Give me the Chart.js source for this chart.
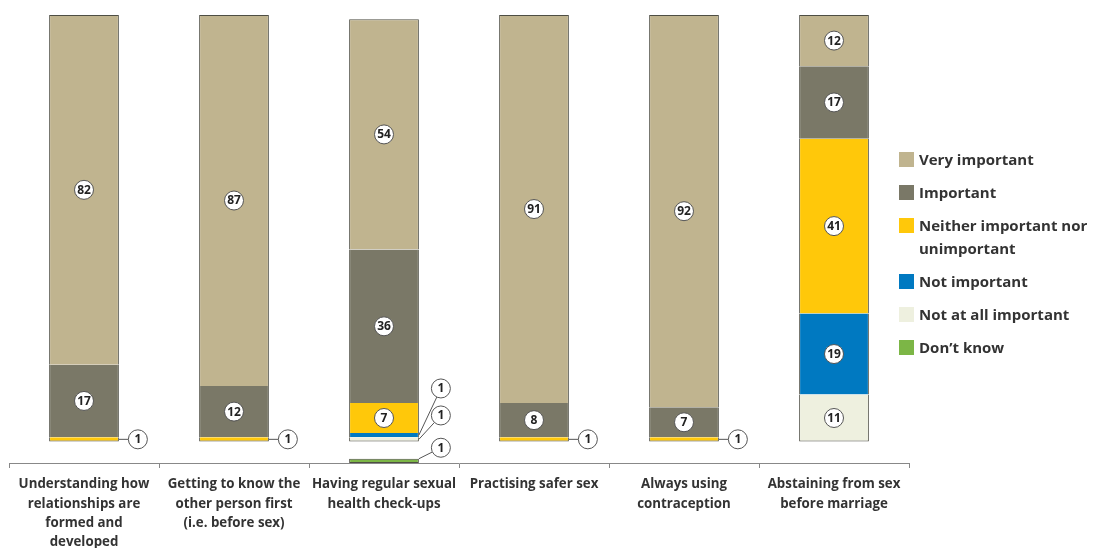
<!DOCTYPE html>
<html><head><meta charset="utf-8">
<script src="https://cdn.jsdelivr.net/npm/chart.js@4.4.1/dist/chart.umd.min.js"></script>
<style>
html,body{margin:0;padding:0;background:#fff;}
#wrap{position:relative;width:1105px;height:548px;overflow:hidden;}
#c{position:absolute;left:0;top:0;}
#legend{position:absolute;left:899px;top:148px;width:206px;font-family:'Open Sans',sans-serif;font-weight:bold;font-size:15px;line-height:23px;color:#333;display:flex;flex-direction:column;gap:10px;}
.item{display:flex;align-items:flex-start;}
.sw{width:15px;height:15px;flex:none;margin-top:4px;margin-right:5px;}
.tx{width:186px;}
</style>
</head><body>
<div id="wrap"><canvas id="c" width="1105" height="548"></canvas><div id="legend"></div></div>
<script>
// ---- data ----
const categories = [
  ['Understanding how','relationships are','formed and','developed'],
  ['Getting to know the','other person first','(i.e. before sex)'],
  ['Having regular sexual','health check-ups'],
  ['Practising safer sex'],
  ['Always using','contraception'],
  ['Abstaining from sex','before marriage']
];
const veryImportant = [82, 87, 54, 91, 92, 12];
const important     = [17, 12, 36,  8,  7, 17];
const neither       = [ 1,  1,  7,  1,  1, 41];
const notImportant  = [ 0,  0,  1,  0,  0, 19];
const notAtAll      = [ 0,  0,  1,  0,  0, 11];
const dontKnow      = [ 0,  0,  1,  0,  0,  0];
const seriesNames = ['Very important','Important','Neither important nor unimportant','Not important','Not at all important','Don\u2019t know'];
const seriesColors = ['#c0b48f','#7a7867','#ffc80a','#0079c1','#eef0df','#7cb646'];

// ---- layout constants ----
const Y_MIN = -5.05;
const OUTLINE = '#4e4e44';
const FONT = "'Open Sans', sans-serif";

// stack order bottom -> top
const mainSeries = [
  {name: seriesNames[4], data: notAtAll,      color: seriesColors[4]},
  {name: seriesNames[3], data: notImportant,  color: seriesColors[3]},
  {name: seriesNames[2], data: neither,       color: seriesColors[2]},
  {name: seriesNames[1], data: important,     color: seriesColors[1]},
  {name: seriesNames[0], data: veryImportant, color: seriesColors[0]}
];
const nMain = mainSeries.length;

function segBorder(ctx) {
  const di = ctx.datasetIndex, i = ctx.dataIndex;
  const v = mainSeries[di].data[i];
  if (!v) return 0;
  let lowest = -1, highest = -1;
  for (let k = 0; k < nMain; k++) {
    if (mainSeries[k].data[i] > 0) { if (lowest < 0) lowest = k; highest = k; }
  }
  return {left: 1, right: 1, top: di === highest ? 1 : 0, bottom: di === lowest ? 1 : 0};
}

const datasets = mainSeries.map(s => ({
  label: s.name,
  data: s.data,
  backgroundColor: s.color,
  borderColor: OUTLINE,
  borderWidth: segBorder,
  borderSkipped: false,
  stack: 'main'
}));
datasets.push({
  label: seriesNames[5],
  data: dontKnow.map(v => v ? [Y_MIN, Y_MIN + v] : null),
  backgroundColor: seriesColors[5],
  borderColor: OUTLINE,
  borderWidth: 1,
  borderSkipped: false,
  stack: 'dk',
  grouped: false
});

function circleLabel(ctx, x, y, txt) {
  ctx.beginPath();
  ctx.arc(x, y, 9.5, 0, Math.PI * 2);
  ctx.fillStyle = '#fff';
  ctx.fill();
  ctx.lineWidth = 1;
  ctx.strokeStyle = '#555';
  ctx.stroke();
  ctx.fillStyle = '#222';
  ctx.font = 'bold 12px ' + FONT;
  ctx.textAlign = 'center';
  ctx.textBaseline = 'middle';
  ctx.fillText(String(txt), x, y + 0.5);
}

const labelPlugin = {
  id: 'segLabels',
  afterDatasetsDraw(chart) {
    const ctx = chart.ctx;
    ctx.save();
    const dkMeta = chart.getDatasetMeta(nMain);
    categories.forEach((c, i) => {
      const small = [];
      let barBottom = null, right = null;
      for (let k = 0; k < nMain; k++) {
        const v = mainSeries[k].data[i];
        if (!v) continue;
        const el = chart.getDatasetMeta(k).data[i];
        const top = Math.min(el.y, el.base), bot = Math.max(el.y, el.base);
        if (barBottom === null || bot > barBottom) barBottom = bot;
        right = el.x + el.width / 2;
        const cy = (top + bot) / 2;
        if (v >= 4) circleLabel(ctx, el.x, cy, v);
        else small.push({v, cy});
      }
      const hasDK = dontKnow[i] > 0;
      ctx.lineWidth = 1;
      if (small.length === 1 && !hasDK) {
        const cx = right + 19, cy = small[0].cy;
        ctx.strokeStyle = '#555';
        ctx.beginPath(); ctx.moveTo(right, cy); ctx.lineTo(cx - 9.5, cy); ctx.stroke();
        circleLabel(ctx, cx, cy, small[0].v);
      } else {
        const cx = right + 22;
        small.forEach((s, j) => {
          const cy = barBottom - 26 - 27 * j;
          const dx = cx - right, dy = cy - s.cy, d = Math.hypot(dx, dy);
          ctx.strokeStyle = '#555';
          ctx.beginPath(); ctx.moveTo(right, s.cy);
          ctx.lineTo(cx - dx / d * 9.5, cy - dy / d * 9.5); ctx.stroke();
          circleLabel(ctx, cx, cy, s.v);
        });
        if (hasDK) {
          const el = dkMeta.data[i];
          const r = el.x + el.width / 2, t = Math.min(el.y, el.base);
          const cy = t - 11;
          const dx = cx - r, dy = cy - t, d = Math.hypot(dx, dy);
          ctx.strokeStyle = '#555';
          ctx.beginPath(); ctx.moveTo(r, t);
          ctx.lineTo(cx - dx / d * 9.5, cy - dy / d * 9.5); ctx.stroke();
          circleLabel(ctx, cx, cy, dontKnow[i]);
        }
      }
    });
    ctx.restore();
  }
};

new Chart(document.getElementById('c'), {
  type: 'bar',
  data: {labels: categories, datasets},
  options: {
    responsive: false,
    animation: false,
    events: [],
    layout: {padding: {left: 9, right: 196, top: 15, bottom: 0}},
    datasets: {bar: {categoryPercentage: 1, barPercentage: 0.465}},
    plugins: {legend: {display: false}, tooltip: {enabled: false}},
    scales: {
      x: {
        stacked: true,
        afterFit(scale) { scale.height = 85; },
        grid: {display: true, drawOnChartArea: false, drawTicks: true, tickLength: 5, color: '#888', offset: true},
        border: {display: true, color: '#888', width: 1},
        ticks: {color: '#333', padding: 7, maxRotation: 0, autoSkip: false,
          font: {family: FONT, weight: 'bold', size: 13.3, lineHeight: 1.45}}
      },
      y: {stacked: true, display: false, min: Y_MIN, max: 100}
    }
  },
  plugins: [labelPlugin]
});

// HTML legend
const lg = document.getElementById('legend');
seriesNames.forEach((n, k) => {
  const it = document.createElement('div'); it.className = 'item';
  const sw = document.createElement('div'); sw.className = 'sw'; sw.style.background = seriesColors[k];
  const tx = document.createElement('div'); tx.className = 'tx'; tx.textContent = n;
  it.appendChild(sw); it.appendChild(tx); lg.appendChild(it);
});
</script>
</body></html>
